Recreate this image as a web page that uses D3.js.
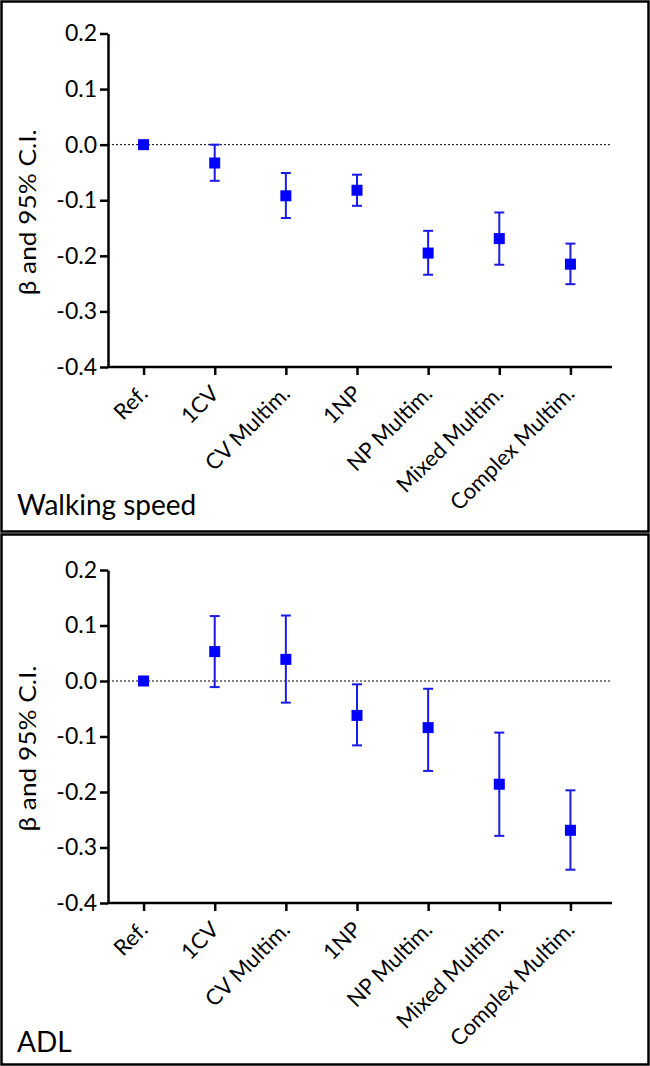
<!DOCTYPE html>
<html><head><meta charset="utf-8">
<script src="https://cdn.jsdelivr.net/npm/d3@7"></script>
<style>body{margin:0;background:#fff}svg{display:block}</style>
</head><body>
<svg id="c" width="650" height="1066"></svg>
<script>
const categories = ["Ref.", "1CV", "CV Multim.", "1NP", "NP Multim.", "Mixed Multim.", "Complex Multim."];
const yTicks = [0.2, 0.1, 0.0, -0.1, -0.2, -0.3, -0.4];
const walkBeta  = [0, -0.033, -0.092, -0.082, -0.195, -0.169, -0.215];
const walkLow   = [0, -0.065, -0.132, -0.110, -0.234, -0.216, -0.251];
const walkHigh  = [0,  0.000, -0.051, -0.054, -0.155, -0.122, -0.178];
const adlBeta   = [0,  0.053,  0.039, -0.062, -0.084, -0.186, -0.269];
const adlLow    = [0, -0.011, -0.039, -0.116, -0.162, -0.279, -0.340];
const adlHigh   = [0,  0.117,  0.118, -0.006, -0.014, -0.093, -0.197];
const panelTitles = ["Walking speed", "ADL"];
const yLabel = "β and 95% C.I.";

const svg = d3.select("#c");
const font = "Lato, 'Open Sans', sans-serif";
const blue = "#0000ff", barBlue = "#1a1ae6";

const panels = [
  {title: panelTitles[0], beta: walkBeta, low: walkLow, high: walkHigh, top: 0, y0: 33.5, y1: 367},
  {title: panelTitles[1], beta: adlBeta, low: adlLow, high: adlHigh, top: 533, y0: 570, y1: 903}
];

const x = d3.scalePoint().domain(categories).range([108, 606]).padding(0.5);

panels.forEach((p, pi) => {
  const g = svg.append("g");
  g.append("rect").attr("x", 1.5).attr("y", p.top + 1.5).attr("width", 647).attr("height", 530)
    .attr("fill", "none").attr("stroke", "#000").attr("stroke-width", 2.5);
  const y = d3.scaleLinear().domain([-0.4, 0.2]).range([p.y1, p.y0]);

  g.append("line").attr("x1", 108).attr("x2", 610).attr("y1", y(0)).attr("y2", y(0))
    .attr("stroke", "#000").attr("stroke-width", 1).attr("stroke-dasharray", "2,2");

  const ya = g.append("g").attr("transform", "translate(108,0)")
    .call(d3.axisLeft(y).tickValues(yTicks).tickSize(8).tickSizeOuter(0));
  ya.select(".domain").attr("stroke-width", 2.5);
  ya.selectAll(".tick line").attr("stroke-width", 2.5);
  ya.selectAll("text").attr("font-family", font).attr("font-size", 23).attr("fill", "#000")
    .attr("x", -11).text(d => d3.format(".1f")(d).replace("−", "-"));

  const xa = g.append("g").attr("transform", `translate(0,${p.y1})`)
    .call(d3.axisBottom(x).tickSize(8).tickSizeOuter(0));
  xa.select(".domain").remove();
  xa.append("line").attr("x1", 107).attr("x2", 612).attr("stroke", "#000").attr("stroke-width", 2.5);
  xa.selectAll(".tick line").attr("stroke-width", 2.5);
  xa.selectAll("text").attr("font-family", font).attr("font-size", 22).attr("fill", "#000")
    .attr("text-anchor", "end").attr("dy", null).attr("y", 0)
    .attr("transform", "translate(5,28) rotate(-45)");

  g.append("text").attr("transform", `translate(36,${(p.y0 + p.y1) / 2 + 12}) rotate(-90)`)
    .attr("text-anchor", "middle").attr("font-family", font).attr("font-size", 23)
    .attr("textLength", 166).attr("lengthAdjust", "spacingAndGlyphs").text(yLabel);

  g.append("text").attr("x", 17).attr("y", p.top + (pi === 0 ? 515 : 519))
    .attr("font-family", font).attr("font-size", 28).text(p.title);

  const idx = d3.range(categories.length).filter(i => p.high[i] !== p.low[i]);
  g.selectAll(".eb").data(idx).join("line")
    .attr("x1", i => x(categories[i])).attr("x2", i => x(categories[i]))
    .attr("y1", i => y(p.high[i])).attr("y2", i => y(p.low[i]))
    .attr("stroke", barBlue).attr("stroke-width", 2);
  ["high", "low"].forEach(k => {
    g.selectAll(".cap" + k).data(idx).join("line")
      .attr("x1", i => x(categories[i]) - 5).attr("x2", i => x(categories[i]) + 5)
      .attr("y1", i => y(p[k][i])).attr("y2", i => y(p[k][i]))
      .attr("stroke", barBlue).attr("stroke-width", 2);
  });
  g.selectAll(".pt").data(d3.range(categories.length)).join("rect")
    .attr("x", i => x(categories[i]) - 5.5).attr("y", i => y(p.beta[i]) - 5.5)
    .attr("width", 11).attr("height", 11).attr("fill", blue);
});
</script>
</body></html>
